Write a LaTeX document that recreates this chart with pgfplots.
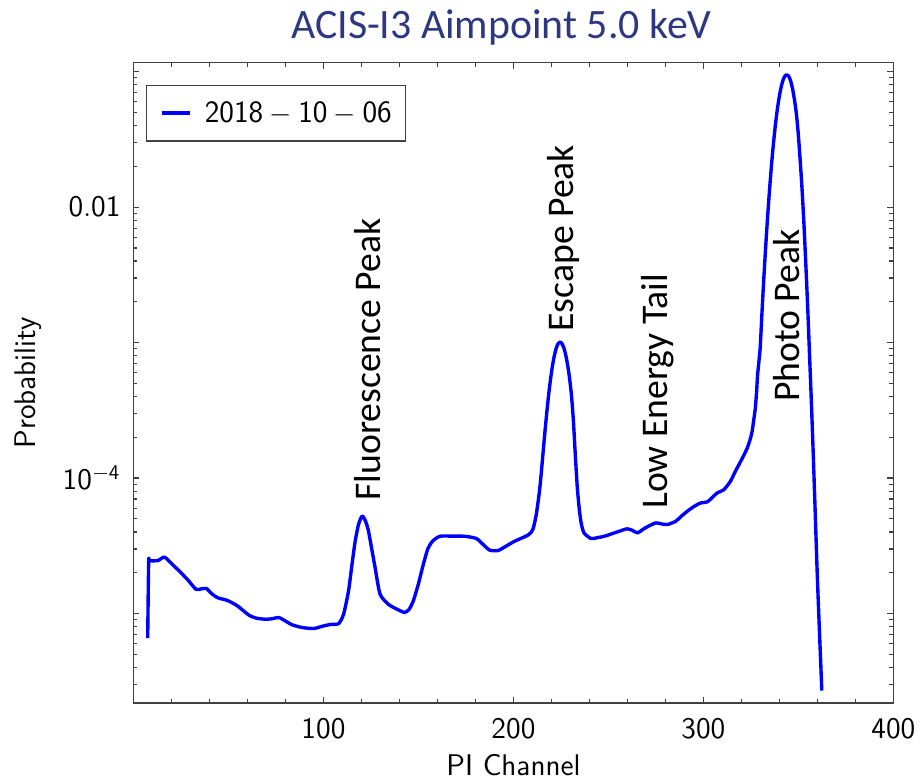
\documentclass[border=0pt]{standalone}
\usepackage{fontspec}
\newfontfamily\calibri{Carlito}
\usepackage{pgfplots}
\pgfplotsset{compat=1.18}
\definecolor{titlenavy}{RGB}{45,56,128}
\definecolor{specblue}{RGB}{0,0,255}

% PI channel vs. probability for the ACIS-I3 aimpoint response at 5.0 keV
\pgfplotstableread{
ch      prob
7.5     6.6e-6
8.0     2.40e-5
8.6     2.45e-5
12.8    2.46e-5
16.3    2.61e-5
20.0    2.34e-5
24.1    2.06e-5
28.5    1.78e-5
32.9    1.51e-5
35.5    1.52e-5
38.4    1.53e-5
41.0    1.41e-5
44.2    1.31e-5
49.4    1.25e-5
54.7    1.14e-5
60.8    9.73e-6
65.0    9.23e-6
69.6    9.08e-6
73.0    9.16e-6
76.5    9.35e-6
80.0    8.81e-6
83.5    8.26e-6
88.8    7.89e-6
94.9    7.76e-6
100.1   8.11e-6
104.0   8.32e-6
108.0   8.43e-6
110.6   9.89e-6
113.2   1.47e-5
115.0   2.29e-5
116.7   3.42e-5
118.5   4.57e-5
120.4   5.25e-5
122.2   4.79e-5
123.7   4.06e-5
125.5   2.95e-5
127.2   2.18e-5
129.8   1.39e-5
134.2   1.17e-5
138.6   1.08e-5
142.6   1.02e-5
145.0   1.07e-5
147.3   1.24e-5
150.0   1.66e-5
152.5   2.29e-5
155.0   3.02e-5
157.5   3.43e-5
161.3   3.72e-5
167.4   3.73e-5
174.4   3.72e-5
180.5   3.58e-5
184.0   3.24e-5
187.5   2.94e-5
191.9   2.92e-5
196.2   3.15e-5
200.6   3.42e-5
207.6   3.79e-5
210.2   4.17e-5
212.0   5.37e-5
213.6   7.8e-5
214.6   1.07e-4
215.6   1.54e-4
216.6   2.21e-4
217.6   3.09e-4
218.6   4.20e-4
219.6   5.47e-4
220.6   6.81e-4
221.6   8.10e-4
222.6   9.17e-4
223.6   9.87e-4
224.6   1.012e-3
225.6   9.79e-4
226.6   9.09e-4
227.6   8.02e-4
228.6   6.73e-4
229.6   5.39e-4
230.6   4.00e-4
231.6   2.60e-4
232.6   1.45e-4
233.6   8.6e-5
234.6   6.0e-5
235.6   4.7e-5
237.1   3.95e-5
240.8   3.58e-5
244.0   3.63e-5
247.8   3.72e-5
251.0   3.85e-5
254.8   4.01e-5
259.7   4.22e-5
262.5   4.12e-5
265.3   3.94e-5
268.0   4.17e-5
270.5   4.37e-5
274.9   4.67e-5
278.0   4.59e-5
281.0   4.54e-5
285.4   4.80e-5
288.5   5.25e-5
291.5   5.69e-5
295.0   6.17e-5
298.5   6.55e-5
302.0   6.67e-5
304.5   7.16e-5
307.2   7.76e-5
310.7   8.20e-5
314.2   9.46e-5
316.5   1.10e-4
318.6   1.25e-4
321.0   1.45e-4
323.0   1.66e-4
324.5   1.91e-4
325.6   2.20e-4
326.5   2.69e-4
327.3   3.27e-4
328.0   4.37e-4
328.5   5.75e-4
329.2   7.24e-4
329.9   9.26e-4
330.9   1.75e-3
331.9   3.17e-3
332.9   5.45e-3
333.9   8.95e-3
334.9   1.403e-2
335.9   2.10e-2
336.9   2.99e-2
337.9   4.06e-2
338.9   5.27e-2
339.9   6.51e-2
340.9   7.69e-2
341.9   8.66e-2
342.9   9.29e-2
343.9   9.51e-2
344.9   9.26e-2
345.9   8.56e-2
346.9   7.50e-2
347.9   6.24e-2
348.9   4.93e-2
349.9   3.50e-2
350.9   2.25e-2
351.9   1.368e-2
352.9   7.57e-3
353.9   3.78e-3
354.9   1.80e-3
355.9   7.83e-4
356.9   3.40e-4
357.9   1.38e-4
358.9   5.26e-5
359.9   1.98e-5
360.9   8.5e-6
361.9   3.8e-6
362.3   2.7e-6
}\responsetable

\begin{document}
\begin{tikzpicture}
% overall canvas
\path (-67pt,-38.5pt) rectangle (394pt,353pt);
\begin{axis}[
  scale only axis,
  width=381.5pt, height=321.5pt,
  xmin=0, xmax=400,
  ymode=log, ymin=2.18e-6, ymax=0.1164,
  xtick={0,100,200,300,400},
  xticklabels={{},100,200,300,400},
  minor x tick num=4,
  ytick={1e-5,1e-4,1e-3,1e-2,1e-1},
  yticklabels={{},$\mathsf{10^{-4}}$,{},$\mathsf{0.01}$,{}},
  minor ytick={3e-6,4e-6,5e-6,6e-6,7e-6,8e-6,9e-6,
               2e-5,3e-5,4e-5,5e-5,6e-5,7e-5,8e-5,9e-5,
               2e-4,3e-4,4e-4,5e-4,6e-4,7e-4,8e-4,9e-4,
               2e-3,3e-3,4e-3,5e-3,6e-3,7e-3,8e-3,9e-3,
               2e-2,3e-2,4e-2,5e-2,6e-2,7e-2,8e-2,9e-2},
  major tick length=3pt,
  minor tick length=2pt,
  every tick/.style={black!75, line width=0.6pt},
  axis line style={black!75, line width=0.7pt},
  tick label style={font=\fontsize{15}{18}\selectfont\sffamily},
  xticklabel style={yshift=-4pt},
  yticklabel style={xshift=-3pt},
  label style={font=\fontsize{15}{18}\selectfont\sffamily},
  xlabel={PI Channel},
  ylabel={Probability},
  x label style={at={(axis description cs:0.5,-0.0964)}, anchor=center},
  y label style={at={(axis description cs:-0.139,0.5)}, anchor=center},
  legend style={at={(axis description cs:0,1)}, anchor=north west,
    xshift=6.35pt, yshift=-11pt, draw=black!75, line width=0.6pt,
    font=\fontsize{15.6}{19}\selectfont,
    nodes={inner sep=0pt}, column sep=6.5pt,
    inner xsep=7pt, inner ysep=8pt},
  legend image code/.code={\draw[#1] (0pt,0pt) -- (14pt,0pt);},
]
\addplot[specblue, line width=1.7pt, smooth, tension=0.4, line join=round]
  table[x=ch, y=prob] {\responsetable};
\addlegendentry{$\mathsf{2018-10-06}$}

\begin{scope}[every node/.style={rotate=90, anchor=base,
    font=\calibri\fontsize{18.9}{22}\selectfont}]
\node at (axis cs:130.0,7.5e-4) {Fluorescence Peak};
\node at (axis cs:231.4,5.9e-3) {Escape Peak};
\node at (axis cs:281.0,4.37e-4) {Low Energy Tail};
\node at (axis cs:350.6,1.58e-3) {Photo Peak};
\end{scope}
\end{axis}
\node[anchor=base, font=\calibri\fontsize{21}{25}\selectfont, text=titlenavy]
  at (184.75pt,333.75pt) {ACIS-I3 Aimpoint 5.0 keV};
\end{tikzpicture}
\end{document}
